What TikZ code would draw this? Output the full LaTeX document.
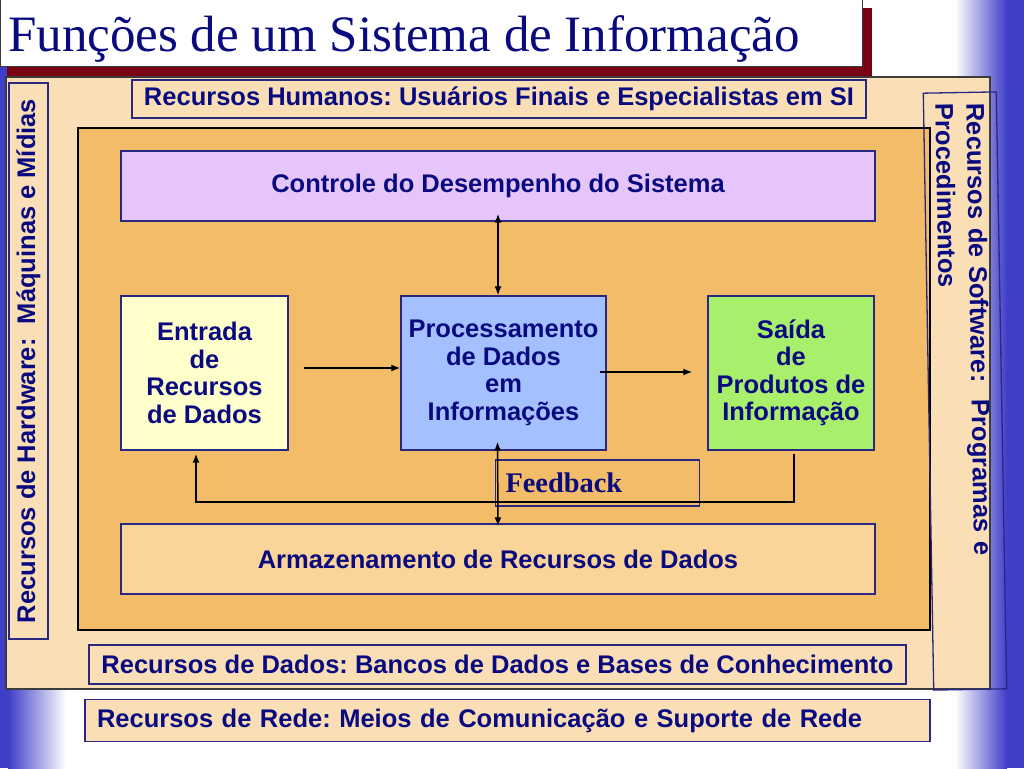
\documentclass[tikz,border=0pt]{standalone}
\usepackage{fontspec}
\setmainfont{Liberation Serif}
\setsansfont{Liberation Sans}
\usetikzlibrary{arrows.meta}
\frenchspacing
\definecolor{azulG}{RGB}{62,62,200}
\definecolor{vinho}{RGB}{122,0,20}
\definecolor{cinza}{RGB}{60,60,60}
\definecolor{navyT}{RGB}{10,10,128}
\definecolor{borda}{RGB}{40,40,130}
\definecolor{bege}{RGB}{250,223,182}
\definecolor{laranja}{RGB}{242,188,104}
\definecolor{laranjaC}{RGB}{250,212,152}
\definecolor{lilas}{RGB}{230,198,250}
\definecolor{amarelo}{RGB}{255,255,204}
\definecolor{azulC}{RGB}{164,192,255}
\definecolor{verde}{RGB}{168,240,108}
\begin{document}
\begin{tikzpicture}[x=1pt,y=-1pt,>={Latex[length=9pt,width=7pt]},
	caixa/.style={draw=borda,line width=1.3pt,inner sep=0pt,text=navyT,align=center,
		font=\sffamily\bfseries\fontsize{25.5}{27.5}\selectfont},
	seta/.style={line width=1.5pt,black}]
\useasboundingbox (0,0) rectangle (1024,768);
\fill[azulG] (0,0) rectangle (8,768);
\shade[left color=azulG,right color=white] (8,0) rectangle (66,768);
\shade[left color=white,right color=azulG] (955,0) rectangle (1007,768);
\fill[azulG] (1007,0) rectangle (1024,768);
\fill[vinho] (7,8) rectangle (872,77);
\draw[fill=white,draw=cinza,line width=1pt] (0,0) rectangle (862,66);
\node[anchor=base west,inner sep=0pt,text=navyT,font=\rmfamily\fontsize{51}{55}\selectfont]
	(titulo) at (8,52) {Funções de um Sistema de Informação};
\draw[fill=bege,draw=cinza,line width=1.2pt] (6,77) rectangle (990,689);
\node[caixa,fill=bege,minimum width=734,minimum height=38] (humanos) at (499,99)
	{Recursos Humanos: Usuários Finais e Especialistas em SI};
\node[caixa,fill=bege,rotate=90,minimum width=556,minimum height=39] (hardware) at (28.5,361)
	{Recursos de Hardware:\ \ Máquinas e Mídias};
\draw[fill=laranja,draw=black,line width=1.2pt] (78,128) rectangle (930,630);
\node[caixa,rotate=-89,minimum width=597,minimum height=73,text width=575,align=left,
	font=\sffamily\bfseries\fontsize{25.5}{31}\selectfont] (software) at (965,391)
	{Recursos de Software:\ \ Programas e\\Procedimentos};
\node[caixa,fill=lilas,minimum width=754,minimum height=70] (controle) at (498,186)
	{Controle do Desempenho do Sistema};
\node[caixa,fill=amarelo,minimum width=167,minimum height=154] (entrada) at (204.5,373)
	{Entrada\\de\\Recursos\\de Dados};
\node[caixa,fill=azulC,minimum width=205,minimum height=154] (proc) at (503.5,373)
	{Processamento\\de Dados\\em\\Informações};
\node[caixa,fill=verde,minimum width=166,minimum height=154] (saida) at (791,373)
	{Saída\\de\\Produtos de\\Informação};
\node[caixa,fill=laranja,minimum width=204,minimum height=46,text width=184,align=left,
	font=\rmfamily\bfseries\fontsize{28.4}{30}\selectfont] (feedback) at (597.5,483) {Feedback};
\node[caixa,fill=laranjaC,minimum width=754,minimum height=70] (armazenamento) at (498,559)
	{Armazenamento de Recursos de Dados};
\node[caixa,fill=bege,minimum width=817,minimum height=39] (dados) at (497.5,664.5)
	{Recursos de Dados: Bancos de Dados e Bases de Conhecimento};
\node[caixa,fill=bege,minimum width=845,minimum height=42,text width=821,align=left] (rede) at (507.5,720.5)
	{Recursos de Rede: Meios de Comunicação e Suporte de Rede};
\coordinate (retorno) at (196,502);
\draw[seta,<->] (proc.north -| controle.south) -- ([yshift=8pt]controle.south);
\draw[seta,<->] ([xshift=-6pt,yshift=9pt]proc.south) -- ([yshift=-3pt]armazenamento.north);
\draw[seta,->] ([xshift=15pt,yshift=5pt]entrada.east) -- ([yshift=5pt]proc.west);
\draw[seta,->] ([xshift=-7pt,yshift=1pt]proc.east) -- ([xshift=-15pt,yshift=1pt]saida.west);
\draw[seta,->] ([xshift=3pt,yshift=-3pt]saida.south) |- (retorno) -- ([xshift=-8.5pt,yshift=-3pt]entrada.south);
\end{tikzpicture}
\end{document}
